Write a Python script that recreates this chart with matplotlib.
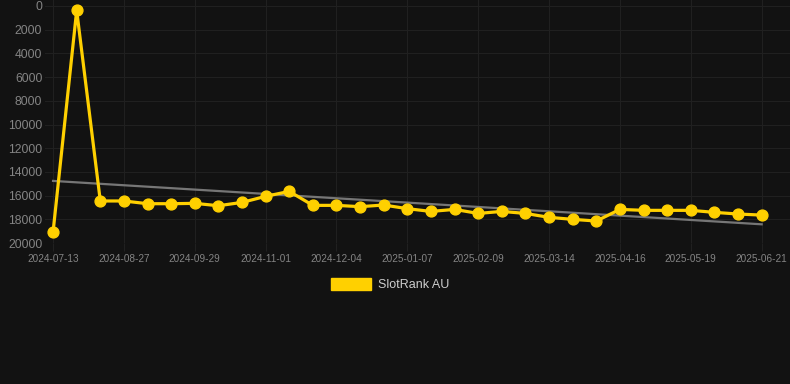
import numpy as np
import matplotlib
matplotlib.use("Agg")
import matplotlib.pyplot as plt

# category labels: every third point is labelled on the x axis
tick_labels = ["2024-07-13", "2024-08-27", "2024-09-29", "2024-11-01", "2024-12-04",
               "2025-01-07", "2025-02-09", "2025-03-14", "2025-04-16", "2025-05-19",
               "2025-06-21"]
ranks = [19070, 380, 16450, 16450, 16680, 16680, 16650, 16850, 16570, 16060,
         15640, 16820, 16820, 16930, 16790, 17100, 17330, 17160, 17500, 17330,
         17500, 17830, 18000, 18140, 17160, 17240, 17240, 17240, 17410, 17550,
         17640]
yticks = [0, 2000, 4000, 6000, 8000, 10000, 12000, 14000, 16000, 18000, 20000]

bg = "#121212"
gold = "#FFD000"

plt.rcParams['font.family'] = ['Liberation Sans', 'DejaVu Sans']

fig = plt.figure(figsize=(7.9, 3.84), dpi=100, facecolor=bg)
ax = fig.add_axes([0.057, 0.367, 0.943, 0.633], facecolor=bg)

x = np.arange(len(ranks))
# linear trend
k, b = np.polyfit(x, ranks, 1)
ax.plot(x, k * x + b, color="#767676", lw=1.6, zorder=2)

ax.plot(x, ranks, color=gold, lw=2.3, marker='o', markersize=7.8,
        solid_joinstyle='miter', zorder=3, label="SlotRank AU")

ax.set_xlim(-0.34, 31.2)
ax.set_ylim(20000, -500)
ax.set_yticks(yticks)
ax.set_yticklabels([str(v) for v in yticks])
ax.set_xticks(x[::3])
ax.set_xticklabels(tick_labels)

ax.grid(True, color="#202020", lw=0.8)
ax.set_axisbelow(True)
for s in ax.spines.values():
    s.set_visible(False)
ax.tick_params(axis='x', colors="#202020", length=6, width=0.8, labelcolor="#848484",
               labelsize=7.2, pad=2)
ax.tick_params(axis='y', length=0, labelcolor="#848484", labelsize=8.7, pad=2)

leg = fig.legend(handles=[plt.Rectangle((0, 0), 1, 1, color=gold)], labels=["SlotRank AU"],
                 loc='center', bbox_to_anchor=(0.494, 0.258), frameon=False,
                 handlelength=3.2, handleheight=1.0, handletextpad=0.5, fontsize=9)
for t in leg.get_texts():
    t.set_color("#cccccc")

fig.savefig("out.png", dpi=100, facecolor=bg)
